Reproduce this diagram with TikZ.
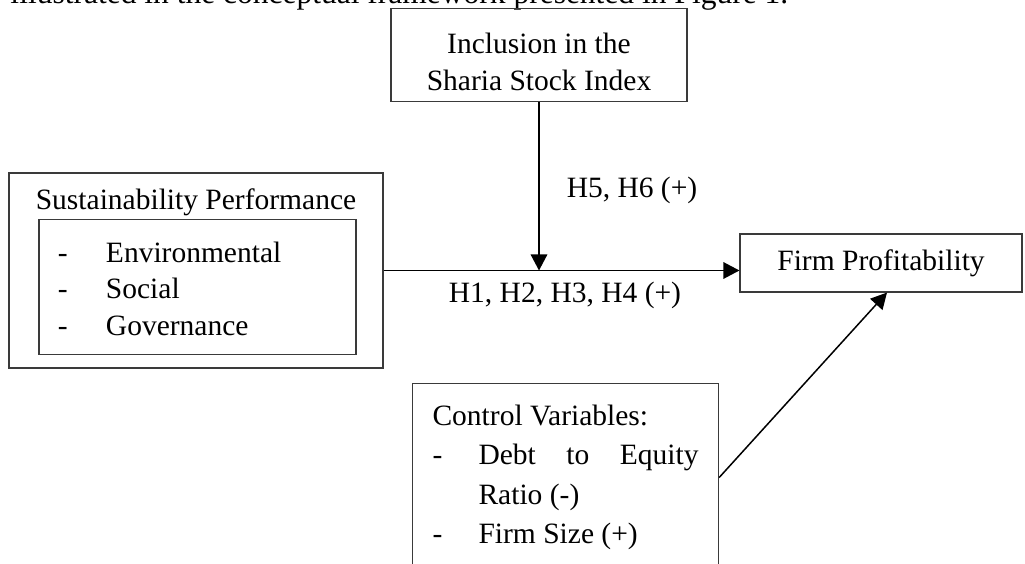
\documentclass[tikz,border=0pt]{standalone}
\usepackage{fontspec}
\setmainfont{Liberation Serif}
\usepackage{tikz}
\usetikzlibrary{arrows.meta}
\usepackage{xcolor}
\definecolor{boxgrey}{HTML}{3a3a3a}
\definecolor{linkblack}{HTML}{000000}
\newcommand{\boxfont}{\fontsize{11.8pt}{14.6pt}\selectfont}
\tikzset{
  framebox/.style={rectangle, draw=boxgrey, line width=0.45pt, inner sep=0pt,
                   align=center, font=\boxfont},
  listbox/.style={rectangle, draw=boxgrey, line width=0.45pt, inner sep=7.6pt,
                  align=left, font=\boxfont, execute at begin node={\spaceskip=0pt\relax}},
  link/.style={-{Triangle[length=6.4pt,width=6.6pt]}, line width=0.6pt, draw=linkblack},
  hyplabel/.style={font=\boxfont, inner sep=0pt},
}

\begin{document}
\begin{tikzpicture}[x=0.4pt, y=-0.4pt]
  \clip (0,0) rectangle (1025,564);
  % last line of the page text, cut off by the figure
  \node[anchor=base west, inner sep=0pt, font=\fontsize{12.6pt}{14pt}\selectfont]
        (pagetext) at (10,4) {illustrated in the conceptual framework presented in Figure 1.};

  \node[framebox, anchor=south, minimum width=118.4pt, inner ysep=4.4pt]
        (incl) at (539,102) {\rule{0pt}{13.6pt}Inclusion in the\\Sharia Stock Index};

  \node[framebox, minimum width=149.6pt, minimum height=78pt] (sust) at (196,270.5) {};
  \node[hyplabel, anchor=base] (susttitle) at (196,210) {Sustainability Performance};
  \node[listbox, text width=111.6pt, minimum height=48pt] (dims) at (197.5,287)
        {\rule{0pt}{9.4pt}\makebox[19.2pt][l]{-}Environmental\\
         \makebox[19.2pt][l]{-}Social\\
         \makebox[19.2pt][l]{-}Governance};

  \node[framebox, minimum width=112.8pt, minimum height=23.2pt] (fp) at (881,263) {Firm Profitability};

  \node[listbox, anchor=north west, inner xsep=8pt, text width=106.4pt, minimum height=75.2pt,
        font=\fontsize{11.8pt}{15.8pt}\selectfont]
        (ctrl) at (412,383)
        {Control Variables:\\
         \makebox[18.4pt][l]{-}\makebox[88pt][l]{Debt\hfill to\hfill Equity}\\
         \hspace*{18.4pt}Ratio (-)\\
         \makebox[18.4pt][l]{-}Firm Size (+)};

  \coordinate (meet) at (incl.south |- sust.east);
  \draw[link] (sust.east) -- (sust.east -| fp.west);
  \draw[link] (incl.south) -- (meet);
  \draw[link] (ctrl.east) -- ([xshift=2.4pt]fp.south);

  \node[hyplabel, anchor=base] (hmod) at (632,198) {H5, H6 (+)};
  \node[hyplabel, anchor=base] (hdir) at (565,303) {H1, H2, H3, H4 (+)};
\end{tikzpicture}
\end{document}
